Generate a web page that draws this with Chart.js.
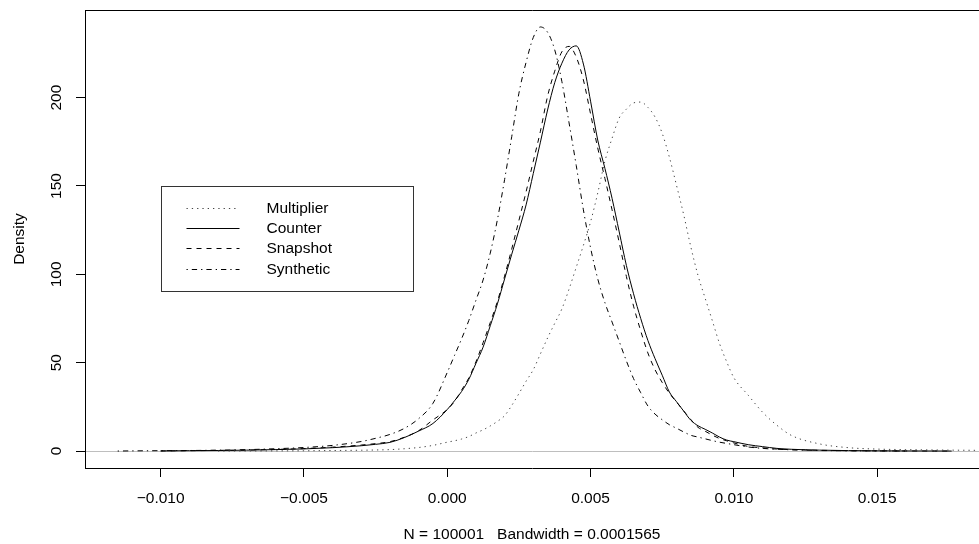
<!DOCTYPE html>
<html lang="en">
<head>
    <meta charset="UTF-8">
    <title>Density</title>
    <script src="https://cdn.jsdelivr.net/npm/chart.js"></script>
    <style>
        html, body {
            margin: 0;
            padding: 0;
            background: #ffffff;
            overflow: hidden;
        }
        canvas {
            display: block;
        }
    </style>
</head>
<body>
    <canvas id="densityChart" width="979" height="544"></canvas>

    <script>
        // shared x grid (finer around the peaks)
        const xGrid = [
            -0.0115, -0.011, -0.010, -0.009, -0.008, -0.007, -0.006, -0.005, -0.004, -0.003,
            -0.0025, -0.002, -0.0015, -0.001, -0.0005,
            0, 0.00025, 0.0005, 0.00075, 0.001, 0.00125, 0.0015, 0.00175, 0.002, 0.00225,
            0.0025, 0.00275, 0.003, 0.00325, 0.0035, 0.00375, 0.004, 0.00425, 0.0045, 0.00475,
            0.005, 0.00525, 0.0055, 0.00575, 0.006, 0.00625, 0.0065, 0.00675, 0.007, 0.00725,
            0.0075, 0.00775, 0.008, 0.00825, 0.0085, 0.00875, 0.009, 0.00925, 0.0095, 0.00975,
            0.010, 0.0105, 0.011, 0.0115, 0.012, 0.013, 0.014, 0.015, 0.016, 0.017, 0.0176, 0.0185
        ];

        const multiplier = [
            null, null, null, null, 0.02, 0.05, 0.1, 0.15, 0.3, 0.45,
            0.6, 0.8, 1.3, 2.0, 3.2,
            5.0, 5.8, 6.8, 8.2, 10.2, 12, 14.2, 16.8, 20, 25.8,
            32.5, 39.5, 46, 55, 64, 72.3, 80.5, 91.7, 104, 116.4,
            129.7, 146, 164, 177, 188.5, 193.5, 197, 197.5, 194.5, 189,
            179.8, 166.3, 150.3, 133.7, 115.4, 99.3, 86.4, 73.7, 60.8, 50.5,
            41.5, 31.6, 22, 14.6, 8.9, 4.0, 1.9, 1.1, 0.8, 0.6, 0.5, 0.4
        ];

        const counter = [
            null, null, 0.05, 0.2, 0.3, 0.5, 0.8, 1.2, 1.9, 3.0,
            3.8, 4.9, 7.6, 11.3, 15.6,
            23.5, 28.4, 33.7, 40.5, 49.6, 58.8, 70.9, 83.3, 97.4, 111.4,
            125, 139.3, 157, 174.8, 193, 208.5, 219.5, 227, 229.3, 219,
            198, 176, 160, 143, 124, 105, 89, 75, 62.6, 52.3,
            42.9, 33.4, 27.9, 22.6, 17.4, 14.3, 12.3, 10.2, 7.9, 6.2,
            5.3, 3.6, 2.5, 1.5, 1.0, 0.5, 0.25, 0.12, 0.05, 0.02, 0, null
        ];

        const snapshot = [
            null, null, 0.05, 0.2, 0.35, 0.55, 0.9, 1.4, 2.2, 3.4,
            4.2, 5.3, 7.8, 11.5, 17.6,
            23.5, 28, 34.5, 41.3, 50.5, 61.3, 72.7, 84.7, 99, 114.4,
            130.5, 146.7, 163.9, 181, 200.8, 215, 226, 229, 223, 210,
            190.8, 171.5, 154.3, 136.5, 118, 98.8, 82, 68, 55.5, 46,
            38.8, 32.7, 27.7, 22.7, 17.8, 13.4, 11.2, 9, 7.1, 5.8,
            4.6, 2.6, 1.8, 1.1, 0.8, 0.4, 0.2, 0.1, 0.04, 0.02, 0, null
        ];

        const synthetic = [
            0.0, 0.1, 0.2, 0.3, 0.5, 0.8, 1.3, 2.0, 3.2, 5.4,
            7.2, 9.4, 12.8, 18.3, 27,
            44.5, 54, 63.5, 73.8, 85.3, 96.8, 112, 131, 153.6, 178,
            202.5, 220, 234, 240, 237, 227, 209, 185.7, 161.6, 136.5,
            115, 97.5, 84, 73, 62, 51, 41, 33, 25.5, 20.9,
            17.7, 14.9, 12.9, 10.8, 8.9, 7.9, 6.9, 5.9, 5.0, 4.3,
            3.6, 2.3, 1.5, 1.0, 0.7, 0.3, 0.15, 0.05, 0, null, null, null
        ];

        const seriesNames = ['Multiplier', 'Counter', 'Snapshot', 'Synthetic'];
        const xTicks = [-0.010, -0.005, 0.000, 0.005, 0.010, 0.015];
        const yTicks = [0, 50, 100, 150, 200];
        const xLabel = 'N = 100001   Bandwidth = 0.0001565';
        const yLabel = 'Density';

        const FONT = "'Liberation Sans', Arial, Helvetica, sans-serif";
        const FONT_SIZE = 15.5;

        function toPoints(values) {
            const pts = [];
            values.forEach((v, i) => {
                if (v !== null) pts.push({ x: xGrid[i], y: v });
            });
            return pts;
        }

        function fmtTick(v) {
            if (Math.abs(v) < 1e-9) v = 0;
            return v.toFixed(3).replace('-', '\u2212');
        }

        // R style: box around the plot, rotated y labels, boxed legend
        const rPlotPlugin = {
            id: 'rPlot',
            afterDraw(chart) {
                const ctx = chart.ctx;
                const area = chart.chartArea;
                const xs = chart.scales.x;
                const ys = chart.scales.y;

                ctx.save();
                ctx.strokeStyle = '#000';
                ctx.lineWidth = 1;
                ctx.setLineDash([]);
                const l = Math.round(area.left) + 0.5;
                const t = Math.round(area.top) + 0.5;
                const b = Math.round(area.bottom) - 0.5;
                ctx.beginPath();
                ctx.moveTo(l, b);
                ctx.lineTo(l, t);
                ctx.lineTo(area.right + 2, t);
                ctx.stroke();

                // y tick labels, parallel to the axis
                ctx.fillStyle = '#000';
                ctx.font = FONT_SIZE + 'px ' + FONT;
                ctx.textAlign = 'center';
                ctx.textBaseline = 'middle';
                yTicks.forEach(v => {
                    ctx.save();
                    ctx.translate(57, ys.getPixelForValue(v));
                    ctx.rotate(-Math.PI / 2);
                    ctx.fillText(String(v), 0, 0);
                    ctx.restore();
                });

                // legend, top-left corner at (-0.01, 150)
                const lx = Math.round(xs.getPixelForValue(-0.01)) + 0.5;
                const ly = Math.round(ys.getPixelForValue(150)) + 0.5;
                ctx.strokeStyle = '#333';
                ctx.strokeRect(lx, ly, 252, 105);
                ctx.textAlign = 'left';
                chart.data.datasets.forEach((ds, i) => {
                    const ry = Math.round(ly + 21 + i * 20.4) + 0.5;
                    ctx.strokeStyle = ds.borderColor;
                    ctx.lineWidth = ds.borderWidth;
                    ctx.setLineDash(ds.borderDash || []);
                    ctx.beginPath();
                    ctx.moveTo(lx + 25, ry);
                    ctx.lineTo(lx + 78, ry);
                    ctx.stroke();
                    ctx.setLineDash([]);
                    ctx.fillText(ds.label, lx + 105, ry);
                });
                ctx.restore();
            }
        };

        const styles = [
            { dash: [1.3, 4], color: '#444' },
            { dash: [], color: '#000' },
            { dash: [5, 5], color: '#000' },
            { dash: [1.3, 4, 5.3, 4], color: '#000' }
        ];
        const values = [multiplier, counter, snapshot, synthetic];

        const ctx = document.getElementById('densityChart').getContext('2d');
        new Chart(ctx, {
            type: 'line',
            data: {
                datasets: seriesNames.map((name, i) => ({
                    label: name,
                    data: toPoints(values[i]),
                    borderColor: styles[i].color,
                    borderWidth: 1,
                    borderDash: styles[i].dash,
                    pointRadius: 0,
                    fill: false,
                    cubicInterpolationMode: 'monotone'
                }))
            },
            options: {
                responsive: false,
                animation: false,
                devicePixelRatio: 1,
                layout: {
                    padding: { top: 10, right: 0, bottom: 0, left: 0 }
                },
                plugins: {
                    legend: { display: false },
                    tooltip: { enabled: false }
                },
                scales: {
                    x: {
                        type: 'linear',
                        min: -0.01264,
                        max: 0.018553,
                        afterFit: s => { s.height = 76; },
                        afterBuildTicks: s => { s.ticks = xTicks.map(v => ({ value: v })); },
                        ticks: {
                            callback: v => fmtTick(v),
                            font: { family: FONT, size: FONT_SIZE },
                            color: '#000',
                            padding: 12,
                            maxRotation: 0,
                            autoSkip: false
                        },
                        grid: {
                            display: true,
                            drawOnChartArea: false,
                            drawTicks: true,
                            tickLength: 9,
                            tickColor: '#000'
                        },
                        border: { display: true, color: '#000', width: 1 },
                        title: {
                            display: true,
                            text: xLabel,
                            font: { family: FONT, size: FONT_SIZE },
                            color: '#000',
                            padding: { top: 0, bottom: 0 }
                        }
                    },
                    y: {
                        type: 'linear',
                        min: -9.6,
                        max: 249.6,
                        afterFit: s => { s.width = 85; },
                        afterBuildTicks: s => { s.ticks = yTicks.map(v => ({ value: v })); },
                        ticks: { display: false },
                        grid: {
                            display: true,
                            drawOnChartArea: true,
                            drawTicks: true,
                            tickLength: 9,
                            tickColor: '#000',
                            color: c => (c.tick && c.tick.value === 0) ? '#bebebe' : 'rgba(0,0,0,0)'
                        },
                        border: { display: true, color: '#000', width: 1 },
                        title: {
                            display: true,
                            text: yLabel,
                            font: { family: FONT, size: FONT_SIZE },
                            color: '#000',
                            padding: { top: 10, bottom: 0 }
                        }
                    }
                }
            },
            plugins: [rPlotPlugin]
        });
    </script>
</body>
</html>
